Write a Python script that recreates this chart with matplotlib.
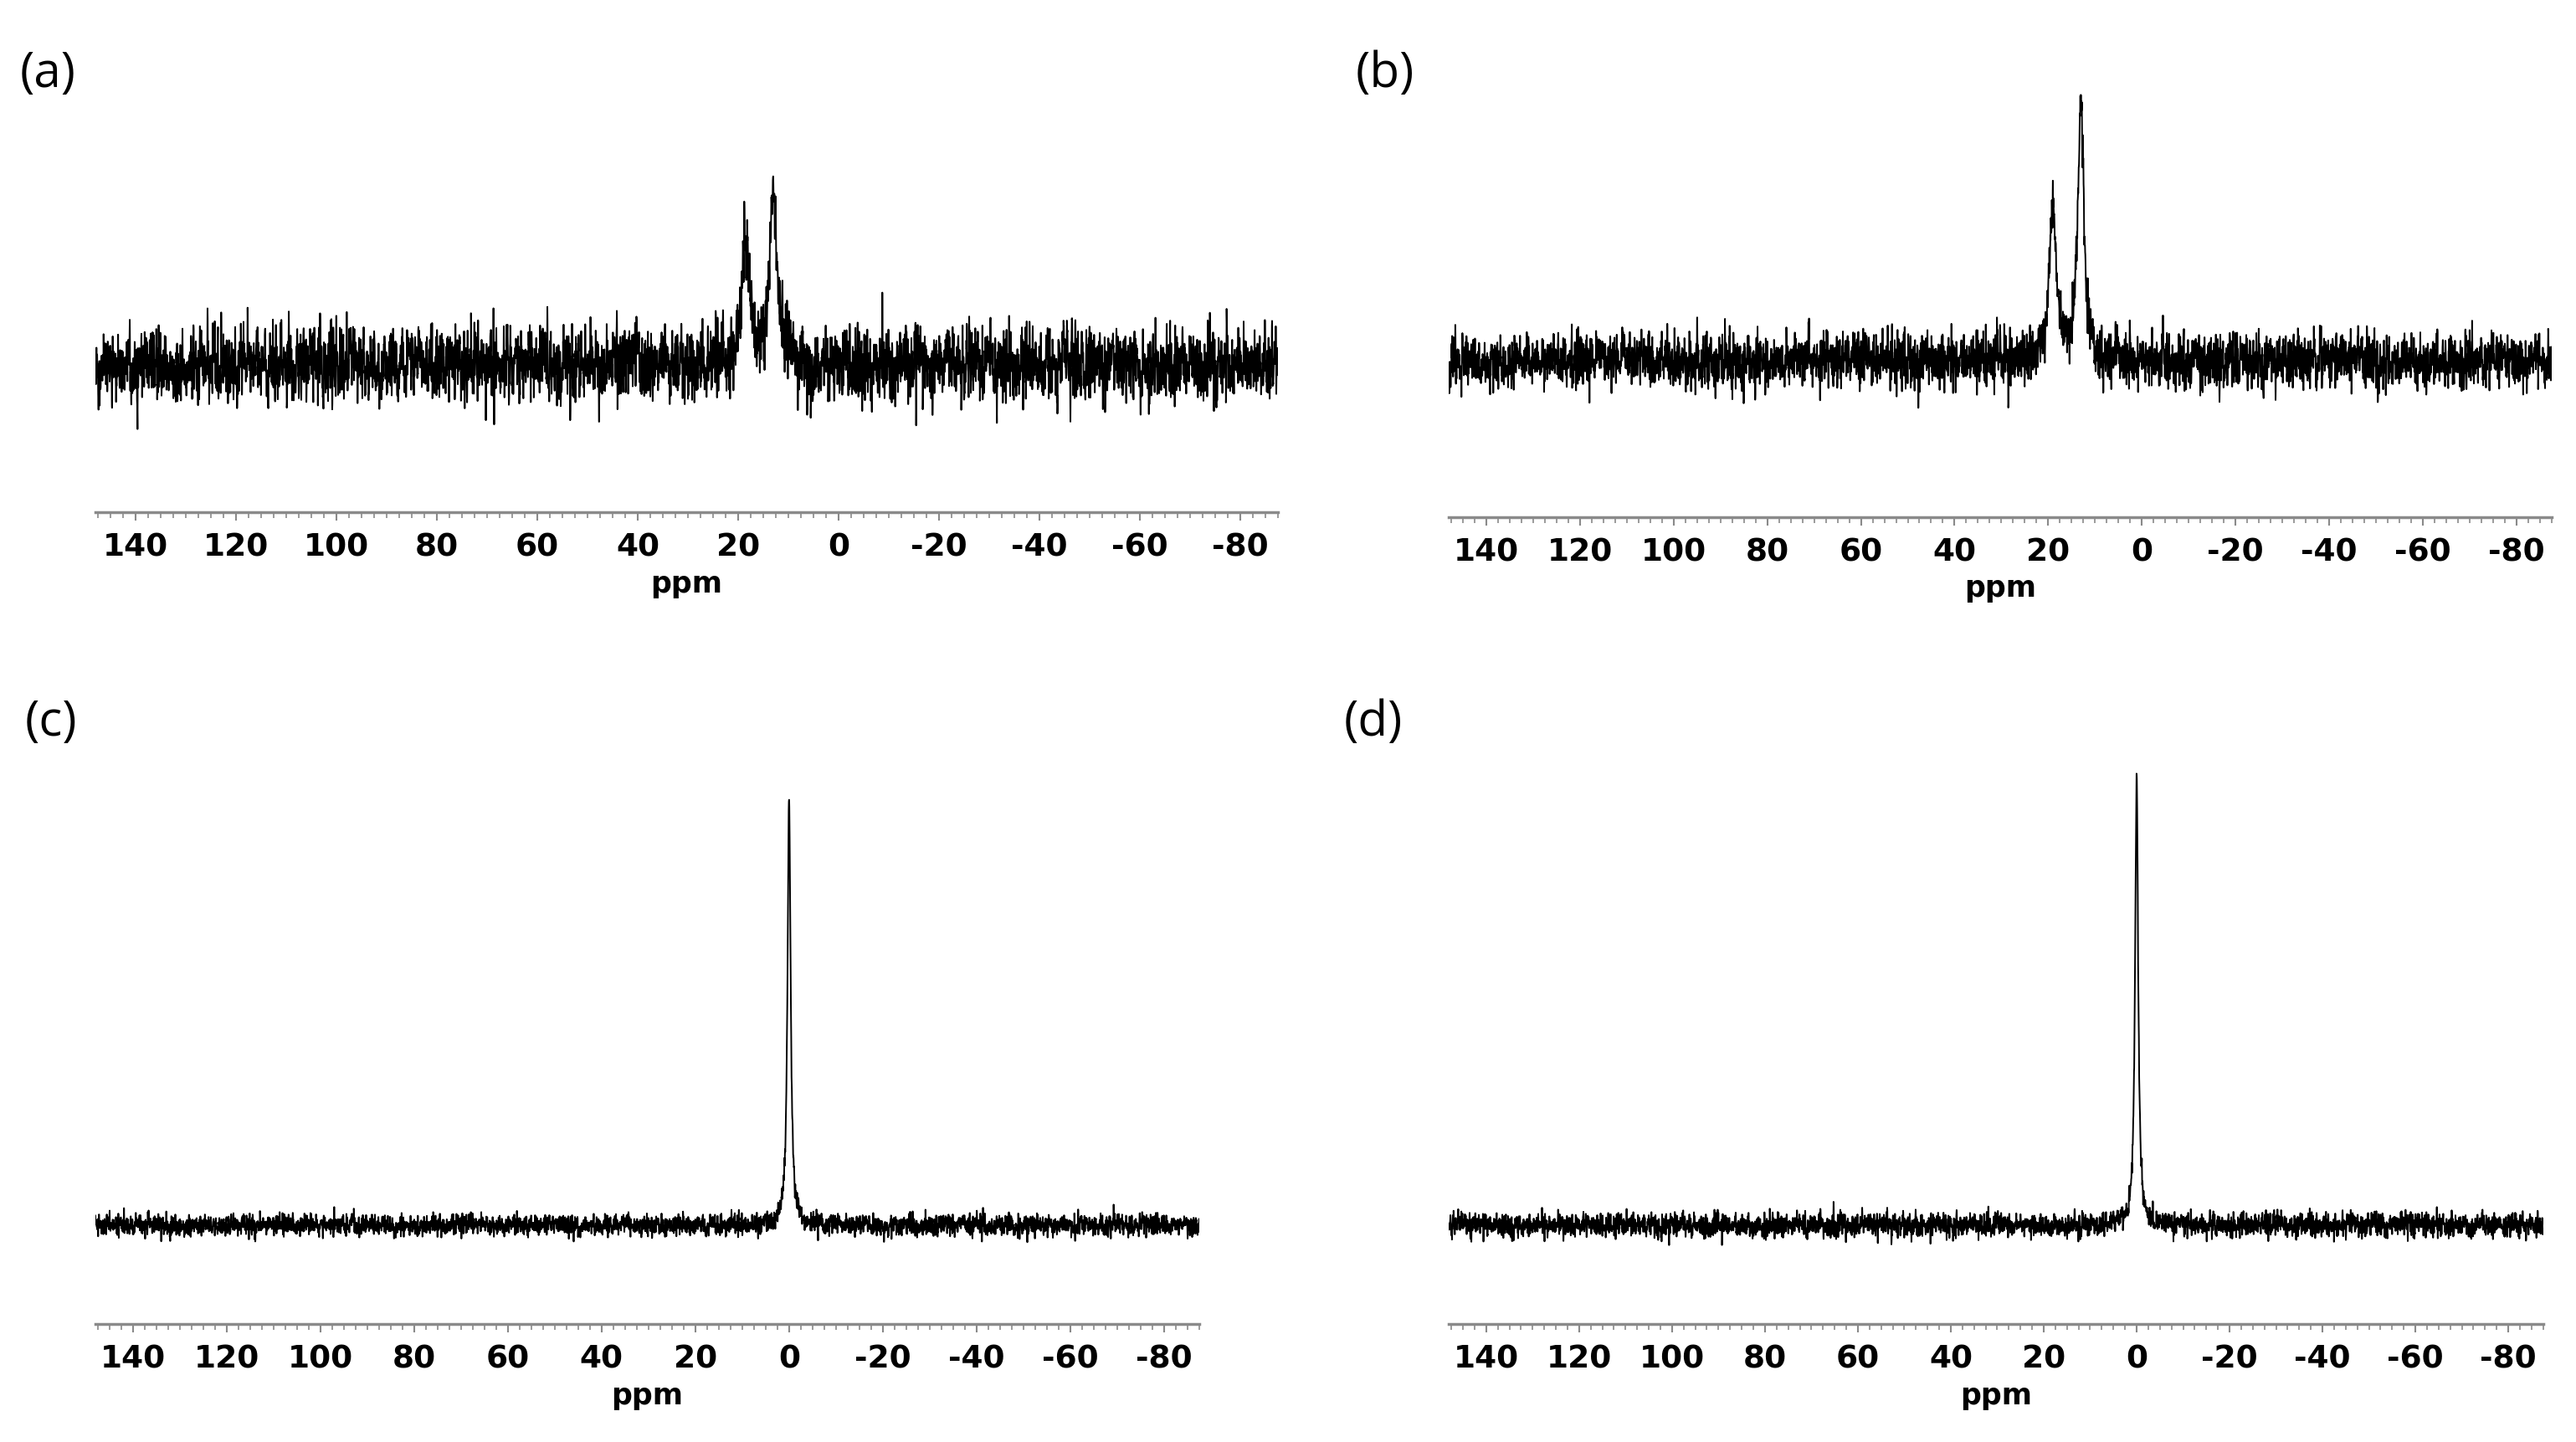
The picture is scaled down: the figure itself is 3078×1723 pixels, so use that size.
import numpy as np
import matplotlib
matplotlib.use("Agg")
import matplotlib.pyplot as plt
from matplotlib.ticker import MultipleLocator

plt.rcParams["axes.unicode_minus"] = False

# Panel data (ppm positions, peak heights above baseline, widths)
panel_names = ["(a)", "(b)", "(c)", "(d)"]
peak_ppm = [[18.5, 13.0], [19.0, 13.0], [0.0], [0.0]]
peak_height = [[75, 110], [100, 160], [258], [272]]
peak_width = [[0.9, 0.8], [0.8, 0.75], [0.4], [0.4]]
noise_level = [11, 8, 3.2, 3.5]
tick_labels = [140, 120, 100, 80, 60, 40, 20, 0, -20, -40, -60, -80]

# layout in reference display pixels (1568 x 878 view)
W, H = 1568.0, 878.0
boxes = [  # left, right, top, axis line y, baseline y
    (58, 778, 30, 312, 222),
    (882, 1553, 30, 315, 220),
    (58, 730, 420, 806, 746),
    (882, 1548, 420, 806, 746),
]
label_pos = [(12, 45), (825, 45), (15, 440), (818, 440)]

fig = plt.figure(figsize=(30.78, 17.24), dpi=100)
rng = np.random.default_rng(7)
ppm = np.linspace(148, -87.5, 7000)

for i, (l, r, t, axy, base) in enumerate(boxes):
    ax = fig.add_axes([l / W, 1 - axy / H, (r - l) / W, (axy - t) / H])
    # baseline noise, lightly smoothed
    noise = rng.normal(0, noise_level[i], ppm.size)
    noise = np.convolve(noise, [0.25, 0.5, 0.25], mode="same") * 1.6
    y = noise.copy()
    for p, h, w in zip(peak_ppm[i], peak_height[i], peak_width[i]):
        y += h / (1 + ((ppm - p) / w) ** 2)
    ax.plot(ppm, y, color="black", lw=1.4)
    ax.set_xlim(148, -87.5)
    ax.set_ylim(-(axy - base), base - t)
    for s in ["left", "right", "top"]:
        ax.spines[s].set_visible(False)
    ax.spines["bottom"].set_color("#8a8a8a")
    ax.spines["bottom"].set_linewidth(2.5)
    ax.set_yticks([])
    ax.set_xticks(tick_labels)
    ax.xaxis.set_minor_locator(MultipleLocator(2.5))
    ax.tick_params(axis="x", which="major", length=7, width=1.5, color="#8a8a8a",
                   labelsize=27, pad=10)
    ax.tick_params(axis="x", which="minor", length=5, width=1.2, color="#8a8a8a")
    for lab in ax.get_xticklabels():
        lab.set_fontweight("bold")
    ax.set_xlabel("ppm", fontsize=25, fontweight="bold", labelpad=6)
    fig.text(label_pos[i][0] / W, 1 - label_pos[i][1] / H, panel_names[i],
             fontsize=42, va="center", ha="left", family="Open Sans")

fig.savefig("out.png", dpi=100, facecolor="white")
